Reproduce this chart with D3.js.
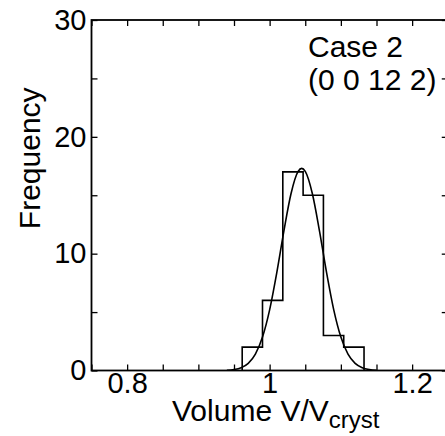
<!DOCTYPE html>
<html>
<head>
<meta charset="utf-8">
<script src="https://cdn.jsdelivr.net/npm/d3@7"></script>
<style>
  body { margin: 0; background: #fff; }
  text { font-family: "Liberation Sans", Arial, Helvetica, sans-serif; fill: #000; }
</style>
</head>
<body>
<div id="chart"></div>
<script>
// histogram bins
const binEdges = [0.9615, 0.99, 1.0185, 1.047, 1.0755, 1.104, 1.1325];
const binCounts = [2, 6, 17, 15, 3, 2];

// fitted curve, points
const curveX = [0.94, 0.95, 0.96, 0.97, 0.98, 0.99, 1.00, 1.01, 1.02, 1.03, 1.04, 1.045,
                1.05, 1.06, 1.07, 1.08, 1.09, 1.10, 1.11, 1.12, 1.13, 1.14, 1.15];
const curveY = [0.02, 0.08, 0.24, 0.61, 1.40, 2.86, 5.19, 8.35, 11.93, 15.13, 17.04, 17.3,
                17.04, 15.13, 11.93, 8.35, 5.19, 2.86, 1.40, 0.61, 0.24, 0.08, 0.02];

// ticks
const xTicks = [0.75, 0.8, 0.85, 0.9, 0.95, 1, 1.05, 1.1, 1.15, 1.2, 1.25];
const xTickLabels = [0.8, 1, 1.2];
const yTicks = [0, 5, 10, 15, 20, 25, 30];
const yTickLabels = [0, 10, 20, 30];

function draw() {
    const W = 445, H = 436;
    const left = 91.5, right = 447.75, top = 20, bottom = 370.5;

    let svg = d3.select("#chart")
        .append("svg")
        .attr("width", W)
        .attr("height", H);

    let x = d3.scaleLinear().domain([0.75, 1.25]).range([left, right]);
    let y = d3.scaleLinear().domain([0, 30]).range([bottom, top]);

    const tickLen = 6;
    const fontSize = 29;

    //axes, ticks pointing inwards
    let fmtX = d => xTickLabels.includes(d) ? String(d) : "";
    let fmtY = d => yTickLabels.includes(d) ? String(d) : "";

    svg.append("g")
        .attr("transform", `translate(0,${bottom})`)
        .call(d3.axisBottom(x).tickValues(xTicks).tickSize(-tickLen).tickSizeOuter(0)
            .tickPadding(2).tickFormat(fmtX));
    svg.append("g")
        .attr("transform", `translate(0,${top})`)
        .call(d3.axisTop(x).tickValues(xTicks).tickSize(-tickLen).tickSizeOuter(0)
            .tickFormat(""));
    svg.append("g")
        .attr("transform", `translate(${left},0)`)
        .call(d3.axisLeft(y).tickValues(yTicks).tickSize(-tickLen).tickSizeOuter(0)
            .tickPadding(5).tickFormat(fmtY));
    svg.append("g")
        .attr("transform", `translate(${right},0)`)
        .call(d3.axisRight(y).tickValues(yTicks).tickSize(-tickLen).tickSizeOuter(0)
            .tickFormat(""));

    svg.selectAll(".domain").remove();
    svg.selectAll(".tick line").attr("stroke", "#000").attr("stroke-width", 1.3);
    svg.selectAll(".tick text")
        .attr("font-size", fontSize)
        .attr("font-family", '"Liberation Sans", Arial, sans-serif')
        .attr("fill", "#000");

    //frame
    svg.append("rect")
        .attr("x", left)
        .attr("y", top)
        .attr("width", right - left)
        .attr("height", bottom - top)
        .attr("fill", "none")
        .attr("stroke", "#000")
        .attr("stroke-width", 1.8);

    //histogram outline
    let pts = [[binEdges[0], 0]];
    for (let i = 0; i < binCounts.length; i++) {
        pts.push([binEdges[i], binCounts[i]]);
        pts.push([binEdges[i + 1], binCounts[i]]);
    }
    pts.push([binEdges[binEdges.length - 1], 0]);
    svg.append("path")
        .datum(pts)
        .attr("fill", "none")
        .attr("stroke", "#000")
        .attr("stroke-width", 1.6)
        .attr("d", d3.line().x(d => x(d[0])).y(d => y(d[1])));

    //fit
    let fit = curveX.map((v, i) => [v, curveY[i]]);
    svg.append("path")
        .datum(fit)
        .attr("fill", "none")
        .attr("stroke", "#000")
        .attr("stroke-width", 1.6)
        .attr("d", d3.line().curve(d3.curveMonotoneX).x(d => x(d[0])).y(d => y(d[1])));

    //labels
    svg.append("text")
        .attr("transform", `translate(40,${(top + bottom) / 2 - 37}) rotate(-90)`)
        .attr("text-anchor", "middle")
        .attr("font-size", 30)
        .text("Frequency");

    let xl = svg.append("text")
        .attr("x", 172)
        .attr("y", 421)
        .attr("font-size", 30)
        .text("Volume V/V");
    xl.append("tspan")
        .attr("dy", 7)
        .attr("font-size", 24)
        .text("cryst");

    svg.append("text")
        .attr("x", 308)
        .attr("y", 57)
        .attr("font-size", 30)
        .text("Case 2");
    svg.append("text")
        .attr("x", 308)
        .attr("y", 90)
        .attr("font-size", 30)
        .text("(0 0 12 2)");
}
draw();
</script>
</body>
</html>
